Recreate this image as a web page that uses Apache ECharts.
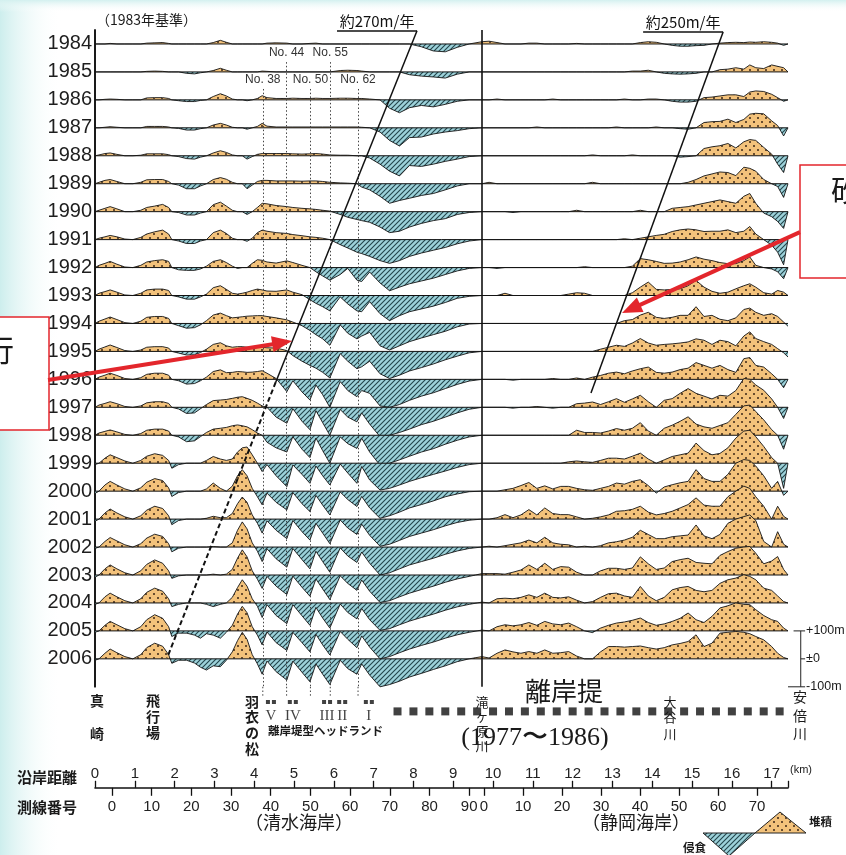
<!DOCTYPE html>
<html>
<head>
<meta charset="utf-8">
<title>汀線変化</title>
<script src="https://cdn.jsdelivr.net/npm/echarts@6/dist/echarts.min.js"></script>
<style>
html,body{margin:0;padding:0;background:#ffffff;}
#chart{width:846px;height:855px;}
</style>
</head>
<body>
<div id="chart"></div>
<script>
// ================= DATA =================
const years = [1984,1985,1986,1987,1988,1989,1990,1991,1992,1993,1994,1995,1996,1997,1998,1999,2000,2001,2002,2003,2004,2005,2006];

// alongshore distance (km) of the points at which the shoreline change is read
const kmPoints = [
  0.00,0.10,0.25,0.38,0.55,0.75,0.95,1.15,1.30,1.50,1.70,1.85,1.93,
  2.10,2.30,2.50,2.65,2.80,2.97,3.15,3.30,3.45,3.58,3.70,3.82,3.95,
  4.08,4.20,4.32,4.55,4.82,4.97,5.20,5.40,5.55,5.72,5.90,6.16,6.35,
  6.58,6.70,6.90,7.16,7.40,7.65,7.90,8.20,8.50,8.80,9.10,9.40,9.72,
  9.90,10.10,10.30,10.50,10.70,10.90,11.10,11.30,11.50,11.70,
  11.90,12.10,12.30,12.50,12.70,12.90,13.10,13.30,13.50,13.70,
  13.90,14.10,14.30,14.50,14.70,14.90,15.10,15.30,15.50,15.70,
  15.90,16.10,16.30,16.45,16.60,16.80,17.00,17.15,17.30,17.41
];

// shoreline change relative to 1983 (m), one array per year
const d1984 = [0,0,0,2,0,0,0,0,3,4,5,2,0, 0,0,0,0,0,5,13,6,0,0,0,0,0, 0,0,3,4,3,0,0,2,3,0,0,0,0, 0,0,0,0,0,0,0,-10,-25,-28,-12,0,8,
  10,5,0,0,0,3,3,0,0,0, 0,2,0,0,0,0,0,0,0,5, 8,6,0,-5,-8,-8,-6,-5,0,3, 5,6,5,7,6,8,6,3,-5,0];
const d1985 = [0,0,0,0,0,0,0,0,2,3,2,0,0, 0,-5,-7,-3,0,5,13,6,0,0,0,0,0, 0,3,2,0,0,0,0,0,0,0,0,5,6, 5,3,0,0,0,0,-10,-15,-18,-22,-8,0,0,
  0,0,0,0,0,0,0,0,0,0, 0,0,0,0,0,0,0,0,3,3, 6,0,-5,-7,-8,-7,-5,0,0,8, 10,15,10,25,15,12,25,20,15,0];
const d1986 = [0,0,2,3,2,0,0,0,7,8,8,5,0, -3,-6,-6,-2,0,12,22,14,3,0,0,-3,0, 5,15,8,5,5,6,5,5,6,5,5,6,6, 5,5,3,0,-30,-46,-28,-20,-25,-16,-5,0,0,
  0,3,0,0,0,0,0,0,3,0, 0,0,0,0,0,0,0,3,0,0, 3,3,0,-5,-8,-8,-5,8,10,14, 18,18,12,28,32,30,20,8,-5,0];
const d1987 = [0,0,2,4,2,0,0,0,5,5,5,3,0, -2,-8,-8,-3,0,10,16,10,2,0,0,-5,0, 5,16,6,3,3,3,3,3,3,3,3,3,3, 3,2,0,-15,-45,-65,-35,-33,-22,-15,-10,-3,0,
  0,0,0,0,0,0,3,0,0,0, 0,0,0,0,0,0,3,0,0,0, 0,3,0,0,-3,-5,0,19,22,23, 31,19,30,49,52,50,25,8,-29,0];
const d1988 = [0,3,8,10,5,0,0,2,7,7,7,4,0, -3,-10,-12,-5,0,10,18,12,3,0,0,-12,-3, 5,8,8,8,8,7,6,7,8,6,3,2,2, 0,0,-8,-30,-55,-72,-35,-38,-30,-20,-12,-3,0,
  0,0,0,0,0,0,0,0,0,0, 0,0,0,3,0,0,0,0,3,0, 0,0,0,0,-5,-3,0,26,32,36, 44,28,50,58,55,30,6,-30,-60,0];
const d1989 = [0,5,12,15,8,0,0,5,14,15,15,8,0, -5,-18,-18,-8,0,15,22,16,5,0,0,-18,-5, 8,12,12,10,10,10,9,10,10,8,5,3,2, 0,-12,-22,-45,-70,-60,-52,-42,-35,-22,-8,0,0,
  5,0,0,0,0,0,0,0,0,0, 0,0,0,5,0,0,0,0,0,0, 0,0,0,0,0,5,15,28,35,42, 40,29,59,55,45,15,0,-10,-49,0];
const d1990 = [0,5,12,18,10,0,0,5,15,20,26,15,0, -3,-12,-12,-5,0,25,34,20,5,0,0,-10,0, 15,30,28,22,18,15,12,10,8,5,2,-10,-20, -28,-32,-38,-55,-75,-70,-55,-42,-32,-25,-10,-3,0,
  0,0,0,-3,0,0,0,0,0,0, 0,5,0,0,0,0,0,0,0,5, 0,0,0,12,15,18,24,30,36,42, 36,30,55,65,30,-5,-18,-35,-60,0];
const d1991 = [0,5,10,15,10,2,0,8,20,28,34,20,0, -5,-14,-14,-5,0,25,34,22,5,0,0,-6,5, 25,34,30,25,22,18,14,10,8,5,0,-18,-30, -45,-50,-60,-75,-85,-75,-60,-48,-38,-28,-15,-5,0,
  0,0,0,0,0,0,0,0,0,0, 0,0,0,0,0,0,0,3,0,5, 10,15,19,29,35,38,35,29,30,30, 35,25,30,47,20,0,-20,-45,-90,0];
const d1992 = [0,8,15,22,12,2,0,8,20,25,28,22,0, -8,-10,-10,-5,5,22,28,18,5,-3,0,0,15, 28,26,20,16,24,18,8,0,-15,-30,-45,-25,-3, -45,-50,-16,-55,-83,-70,-58,-48,-38,-25,-12,-3,0,
  0,-3,0,0,0,0,0,0,0,0, 0,0,3,0,0,0,0,0,5,32, 28,22,15,16,20,28,38,30,25,18, 14,14,25,38,8,0,-5,-15,-40,0];
const d1993 = [0,8,14,20,12,2,0,8,20,23,23,18,0, -5,-13,-13,-5,5,28,35,22,8,5,8,12,18, 23,20,16,15,20,12,3,-15,-28,-40,-55,-5,-30, -55,-58,-22,-65,-90,-72,-58,-48,-38,-25,-10,-3,0,
  0,0,8,0,0,0,0,0,0,0, 5,10,8,0,0,0,0,0,10,30, 48,22,20,22,24,35,54,30,15,8, 12,24,35,42,30,10,5,18,12,0];
const d1994 = [0,8,16,23,14,3,0,8,22,25,25,18,0, -8,-17,-15,-5,10,30,37,28,20,22,24,26,27, 28,28,25,20,13,5,-8,-25,-40,-55,-78,-5,-35, -55,-45,-32,-80,-95,-80,-65,-52,-40,-28,-12,-2,0,
  0,0,0,0,0,0,0,0,0,0, 0,0,0,0,0,0,0,10,14,30, 40,22,18,22,29,29,60,25,29,15, 10,20,50,55,40,29,35,25,5,-10];
const d1995 = [0,8,16,23,14,3,0,5,15,17,17,12,0, -6,-13,-12,-4,8,25,31,20,15,17,17,15,16, 17,15,13,12,3,-15,-35,-50,-60,-75,-95,-8,-35, -62,-55,-35,-80,-97,-85,-70,-58,-45,-30,-17,-5,0,
  0,0,0,0,0,0,0,0,0,0, 0,0,0,0,8,15,22,18,30,46, 30,22,25,27,30,34,45,40,25,40, 35,20,55,70,46,35,25,10,-5,-20];
const d1996 = [0,8,15,22,14,3,0,6,18,22,22,15,0, -5,-17,-15,-5,8,28,34,24,25,28,27,25,26, 28,31,22,3,-44,-5,-45,-74,-20,-55,-100,-8,-40, -62,-40,-50,-95,-100,-90,-75,-60,-48,-33,-18,-6,0,
  0,0,0,-3,0,0,0,0,3,0, 0,5,0,8,14,22,26,20,30,38, 44,25,22,26,35,40,60,50,40,50, 35,25,74,78,50,44,20,0,-30,0];
const d1997 = [0,8,14,20,13,3,0,5,16,20,20,14,0, -6,-22,-20,-5,10,24,26,28,32,36,38,32,25, 15,5,0,-35,-57,-5,-50,-80,-12,-55,-100,-8,-35, -52,-20,-60,-105,-100,-90,-78,-62,-50,-35,-20,-7,0,
  0,0,0,-3,0,0,3,0,-3,0, 0,13,15,19,10,20,31,18,30,43, 20,0,25,31,50,67,50,40,30,43, 40,60,103,100,80,61,30,0,-40,0];
const d1998 = [0,8,14,19,12,3,0,6,18,22,22,15,0, -6,-23,-20,-5,10,22,25,28,34,37,34,30,20, 8,0,-25,-45,-60,-5,-50,-80,-10,-55,-100,-6,-30, -47,-11,-60,-107,-100,-88,-75,-60,-48,-32,-18,-6,0,
  0,0,0,0,0,0,0,0,0,0, 0,18,10,10,8,15,24,18,25,45, 15,0,25,36,50,66,40,30,25,35, 45,75,105,108,85,55,20,0,-50,0];
const d1999 = [-5,0,18,30,20,8,0,10,25,34,28,10,-18, -5,0,0,0,10,24,15,10,15,40,55,58,30, 0,-30,-5,-45,-84,-6,-40,-72,-10,-45,-78,-3,-35, -72,-12,-60,-96,-90,-78,-65,-52,-40,-28,-15,-5,0,
  0,0,0,0,0,0,0,0,0,0, 5,8,5,3,10,18,18,15,25,36, 15,0,12,24,30,36,72,45,30,35, 55,90,115,118,95,60,20,0,-90,0];
const d2000 = [-8,0,22,35,22,8,0,12,32,45,38,12,-19, -5,0,0,0,8,29,10,0,18,55,77,55,10, -20,-49,-7,-40,-67,-5,-45,-73,-15,-50,-85,-3,-30, -55,-19,-60,-97,-88,-75,-60,-48,-35,-20,-10,-2,0,
  0,0,5,10,20,31,10,19,8,17, 17,10,5,3,10,17,29,25,35,41, 20,-7,15,23,30,35,77,45,35,35, 60,100,113,110,90,55,10,35,-15,0];
const d2001 = [-8,0,22,36,22,8,0,12,32,46,38,12,-20, -5,0,0,0,3,10,5,5,20,55,79,60,15, -15,-50,-6,-40,-70,-5,-45,-75,-15,-50,-88,-3,-32, -55,-18,-58,-97,-90,-76,-62,-50,-38,-24,-12,-4,0,
  0,5,16,5,15,34,15,40,20,16, 16,8,0,3,8,15,28,30,35,46, 25,15,20,28,40,52,76,50,46,46, 80,100,118,110,80,46,0,46,10,0];
const d2002 = [-5,0,20,34,22,8,0,12,32,46,38,12,-17, -4,0,0,0,0,2,0,0,15,60,90,65,15, -15,-52,-6,-42,-72,-5,-45,-78,-15,-52,-90,-3,-32, -55,-18,-58,-100,-92,-78,-64,-52,-40,-26,-14,-5,0,
  3,0,5,10,15,25,15,35,15,10, 8,0,3,0,5,15,19,25,35,60, 45,30,30,37,40,43,79,40,30,45, 85,100,109,115,95,20,0,55,10,0];
const d2003 = [-8,0,22,36,22,8,0,15,38,54,42,15,-12, -3,0,0,0,0,3,0,3,20,60,90,65,15, -15,-48,-5,-40,-70,-4,-44,-76,-14,-50,-88,-3,-30, -55,-18,-58,-98,-92,-78,-65,-52,-40,-26,-14,-5,5,
  5,5,3,10,18,36,20,42,20,30, 28,10,0,0,15,24,24,20,25,65, 40,20,25,48,55,60,45,42,40,70, 84,96,100,102,78,40,50,66,20,0];
const d2004 = [-5,0,22,35,22,8,0,15,38,53,42,15,-13, -5,0,0,0,-5,-13,-5,0,20,55,83,60,15, -12,-52,-6,-45,-74,-6,-46,-80,-16,-54,-90,-4,-34, -57,-20,-60,-98,-92,-78,-65,-52,-40,-26,-14,-5,3,
  0,15,17,15,20,29,20,35,20,18, 22,10,0,5,20,33,35,25,20,59, 25,8,20,47,55,59,45,40,45,70, 83,89,101,95,83,53,45,25,5,0];
const d2005 = [-5,0,20,34,22,8,0,15,40,58,45,15,-20, -8,-8,-15,-26,-10,-15,-26,-5,20,60,88,65,15, -15,-50,-4,-42,-70,-5,-42,-75,-12,-50,-86,-2,-30, -60,-18,-58,-100,-92,-78,-65,-52,-40,-26,-14,-5,3,
  0,15,22,18,22,30,20,34,25,22, 28,15,0,-6,10,20,28,32,38,46, 30,20,25,34,45,64,40,30,52,82, 90,100,95,94,76,55,40,34,10,0];
const d2006 = [-5,0,20,35,22,8,0,15,40,56,45,15,-16, -5,-5,-15,-30,-40,-25,-28,-5,25,65,95,70,15, -18,-55,-8,-46,-76,-8,-48,-82,-18,-55,-92,-5,-35, -55,-18,-58,-100,-92,-80,-65,-52,-38,-25,-10,0,8,
  3,20,32,25,20,26,20,32,20,22, 26,10,0,0,25,44,44,42,44,46, 40,35,40,50,55,62,86,44,56,92, 95,98,95,90,80,68,44,20,5,0];

const profiles = [d1984,d1985,d1986,d1987,d1988,d1989,d1990,d1991,d1992,d1993,d1994,d1995,d1996,d1997,d1998,d1999,d2000,d2001,d2002,d2003,d2004,d2005,d2006];

// axis tick labels
const kmTickLabels = [0,1,2,3,4,5,6,7,8,9,10,11,12,13,14,15,16,17];
const shimizuLines = [0,10,20,30,40,50,60,70,80,90];
const shizuokaLines = [0,10,20,30,40,50,60,70];
const surveyMarks = [38,44,50,55,62];
const surveyMarkHigh = [false,true,false,true,false];
const headlandNames = ['V','IV','III','II','I'];
const headlandKm = [4.42,4.97,5.83,6.21,6.88];
const breakwaterKm = [7.6,8.0,8.4,8.8,9.2,9.6,10.0,10.4,10.8,11.2,11.6,12.0,12.4,12.8,13.2,13.6,14.0,14.4,14.8,15.2,15.6,16.0,16.4,16.8,17.2];
const riverKm = 9.72;
const scaleLabels = ['+100m', '±0', '-100m'];

// ================= LAYOUT / STYLE =================
const ROW = 100;               // one row spacing = 100 m on the value axis
const TOP_BASE = 2300;         // baseline value of the first year
const Y_MAX = 2350;
const X_MAX = 17.41;
const SHIMIZU0 = 0.427, SHIMIZU_DK = 0.0997;   // survey line No. -> km (Shimizu coast)
const SHIZUOKA0 = 9.773, SHIZUOKA_DK = 0.098;  // survey line No. -> km (Shizuoka coast)
const NARROW = "'Liberation Sans Narrow','Arial Narrow','Liberation Sans',Arial,sans-serif";
const SANS = "'Liberation Sans',Arial,sans-serif";
const CJK = "'Noto Sans CJK JP','Noto Sans CJK SC',sans-serif";
const SERIF = "'Liberation Serif','DejaVu Serif',serif";
const red = '#e3262c';

function makeDots() {
  const c = document.createElement('canvas'); c.width = 8; c.height = 8;
  const g = c.getContext('2d');
  g.fillStyle = '#f3c27b'; g.fillRect(0, 0, 8, 8);
  g.fillStyle = '#3a2414';
  [[2, 2], [6, 6]].forEach(p => { g.beginPath(); g.arc(p[0], p[1], 1.0, 0, Math.PI * 2); g.fill(); });
  return c;
}
function makeHatch() {
  const c = document.createElement('canvas'); c.width = 5; c.height = 5;
  const g = c.getContext('2d');
  g.fillStyle = '#9dd2da'; g.fillRect(0, 0, 5, 5);
  g.strokeStyle = '#23454c'; g.lineWidth = 1.1;
  g.beginPath();
  g.moveTo(-1, 6); g.lineTo(6, -1);
  g.moveTo(-1, 1); g.lineTo(1, -1);
  g.moveTo(4, 6); g.lineTo(6, 4);
  g.stroke();
  return c;
}
const orangeFill = { image: makeDots(), repeat: 'repeat' };
const blueFill = { image: makeHatch(), repeat: 'repeat' };

function renderRow(params, api) {
  const i = api.value(0);
  const base = api.value(1);
  const prof = profiles[i];
  const n = Math.min(prof.length, kmPoints.length);
  const y0 = api.coord([0, base])[1];
  const pts = [];
  for (let j = 0; j < n; j++) {
    const p = api.coord([kmPoints[j], base + prof[j]]);
    if (j > 0) {
      const v1 = prof[j - 1], v2 = prof[j];
      if ((v1 > 0 && v2 < 0) || (v1 < 0 && v2 > 0)) {
        const q = pts[pts.length - 1];
        const t = v1 / (v1 - v2);
        pts.push([q[0] + t * (p[0] - q[0]), y0]);
      }
    }
    pts.push(p);
  }
  const xL = pts[0][0], xR = pts[pts.length - 1][0];
  const pos = [[xL, y0]].concat(pts.map(p => [p[0], Math.min(p[1], y0)]), [[xR, y0]]);
  const neg = [[xL, y0]].concat(pts.map(p => [p[0], Math.max(p[1], y0)]), [[xR, y0]]);
  return {
    type: 'group',
    children: [
      { type: 'polygon', shape: { points: neg }, style: { fill: blueFill, stroke: null } },
      { type: 'polygon', shape: { points: pos }, style: { fill: orangeFill, stroke: null } },
      { type: 'line', shape: { x1: xL, y1: y0, x2: xR, y2: y0 }, style: { stroke: '#111', lineWidth: 1 } },
      { type: 'polyline', shape: { points: pts }, style: { fill: null, stroke: '#141414', lineWidth: 0.9 } }
    ]
  };
}

// survey-number axis ticks
const surveyKm = shimizuLines.map(n => SHIMIZU0 + SHIMIZU_DK * n).concat(shizuokaLines.map(n => SHIZUOKA0 + SHIZUOKA_DK * n));
const surveyText = shimizuLines.concat(shizuokaLines);
function surveyFormatter(v) {
  const k = surveyKm.findIndex(s => Math.abs(s - v) < 1e-6);
  return k >= 0 ? String(surveyText[k]) : '';
}

// ---- reference lines inside the plot (value-axis coordinates) ----
const solidBlack = { type: 'solid', width: 1.5, color: '#111' };
const markData = [];
markData.push([{ coord: [riverKm, Y_MAX], lineStyle: { type: 'solid', width: 1.6, color: '#111' } }, { coord: [riverKm, 0] }]);
surveyMarks.forEach((n, k) => {
  const km = SHIMIZU0 + SHIMIZU_DK * n;
  const top = surveyMarkHigh[k] ? 2235 : 2139;
  markData.push([{
    coord: [km, top], lineStyle: { type: [1.5, 2.2], width: 1, color: '#444' },
    label: { show: true, position: 'start', distance: 3, formatter: 'No. ' + n, fontSize: 12, color: '#333', fontFamily: NARROW }
  }, { coord: [km, 0] }]);
});
markData.push([{ coord: [6.08, 2347], lineStyle: solidBlack,
  label: { show: true, position: 'insideMiddleTop', distance: 2, formatter: '約270m/年', fontSize: 15, color: '#111', fontFamily: CJK } }, { coord: [8.09, 2347] }]);
markData.push([{ coord: [8.09, 2347], lineStyle: solidBlack }, { coord: [4.54, 1090] }]);
markData.push([{ coord: [4.54, 1090], lineStyle: { type: [5, 3], width: 2, color: '#111' } }, { coord: [1.81, 103] }]);
markData.push([{ coord: [13.77, 2343], lineStyle: solidBlack,
  label: { show: true, position: 'insideMiddleTop', distance: 2, formatter: '約250m/年', fontSize: 15, color: '#111', fontFamily: CJK } }, { coord: [15.78, 2343] }]);
markData.push([{ coord: [15.78, 2343], lineStyle: solidBlack }, { coord: [12.46, 1051] }]);

// annotations outside the axis extent (converted through the chart's scales after layout)
const arrowDefs = [ { from: [-1.18, 1098], to: [4.95, 1237] }, { from: [17.71, 1627], to: [13.24, 1337] } ];
const bracketKm = { left: 17.55, mid: 17.73, right: 17.84, axisEnd: X_MAX };
const bracketVals = [200, 100, 0];   // +100 m, ±0, -100 m around the 2006 baseline
const surveyLineBottom = -35;

// ---- graphic texts ----
function txt(x, y, t, size, opt) {
  opt = opt || {};
  return { type: 'text', x: x, y: y, z: 50, silent: true,
    style: { text: t, fill: opt.fill || '#1a1a1a', fontSize: size, fontFamily: opt.font || CJK, fontWeight: opt.weight || 'normal',
      align: opt.align || 'center', verticalAlign: 'middle' } };
}
function vtext(x, ys, chars, size, opt) { return chars.map((c, k) => txt(x, ys[k], c, size, opt)); }

const graphics = [
  { type: 'rect', z: -100, silent: true, shape: { x: 0, y: 0, width: 62, height: 855 },
    style: { fill: new echarts.graphic.LinearGradient(0, 0, 1, 0, [{ offset: 0, color: '#cdeeed' }, { offset: 1, color: 'rgba(255,255,255,0)' }]) } },
  { type: 'rect', z: -100, silent: true, shape: { x: 0, y: 0, width: 846, height: 12 },
    style: { fill: new echarts.graphic.LinearGradient(0, 0, 0, 1, [{ offset: 0, color: '#d3f0ef' }, { offset: 1, color: 'rgba(255,255,255,0)' }]) } },
  txt(96, 20, '（1983年基準）', 14, { align: 'left' }),
  ...vtext(97, [701, 734], ['真', '崎'], 14, { weight: 'bold' }),
  ...vtext(153, [701, 717, 733], ['飛', '行', '場'], 14, { weight: 'bold' }),
  ...vtext(252, [702, 717, 733, 749], ['羽', '衣', 'の', '松'], 14, { weight: 'bold' }),
  txt(268, 731, '離岸堤型ヘッドランド', 11.5, { align: 'left', weight: 'bold' }),
  ...vtext(482, [702, 716, 731, 746], ['滝', 'ヶ', '原', '川'], 13),
  ...vtext(670, [702, 717, 734], ['大', '谷', '川'], 13),
  ...vtext(800, [697, 716, 734], ['安', '倍', '川'], 14),
  txt(564, 691, '離岸提', 26),
  txt(535, 738, '(1977〜1986)', 26, { font: SERIF }),
  txt(47, 777, '沿岸距離', 15, { weight: 'bold' }),
  txt(47, 807, '測線番号', 15, { weight: 'bold' }),
  txt(790, 770, '(km)', 11, { align: 'left', font: SANS }),
  txt(299, 822, '（清水海岸）', 18),
  txt(636, 822, '（静岡海岸）', 18),
  { type: 'polygon', z: 40, silent: true, shape: { points: [[703, 833], [755, 833], [729, 856]] }, style: { fill: blueFill, stroke: '#222', lineWidth: 1 } },
  { type: 'polygon', z: 40, silent: true, shape: { points: [[755, 833], [806, 833], [780, 812]] }, style: { fill: orangeFill, stroke: '#222', lineWidth: 1 } },
  txt(809, 822, '堆積', 11.5, { align: 'left', weight: 'bold' }),
  txt(683, 848, '侵食', 11.5, { align: 'left', weight: 'bold' }),
  { type: 'rect', z: 45, silent: true, shape: { x: -20, y: 317, width: 69, height: 113 }, style: { fill: '#fff', stroke: red, lineWidth: 1.5 } },
  txt(14, 350, '行', 30, { align: 'right' }),
  { type: 'rect', z: 45, silent: true, shape: { x: 800, y: 165, width: 70, height: 113 }, style: { fill: '#fff', stroke: red, lineWidth: 1.5 } },
  txt(831, 190, '砂', 30, { align: 'left' })
];

// ================= CHART =================
const chart = echarts.init(document.getElementById('chart'), null, { renderer: 'canvas', width: 846, height: 855 });
chart.setOption({
  animation: false,
  backgroundColor: '#ffffff',
  grid: { left: 95, top: 30, width: 693, height: 656.8, containLabel: false },
  xAxis: [
    { type: 'value', min: 0, max: X_MAX, interval: 1, position: 'bottom', offset: 101,
      axisLine: { show: true, onZero: false, lineStyle: { color: '#111', width: 1.6 } },
      axisTick: { show: true, inside: true, length: 7, lineStyle: { color: '#111', width: 1.3 } },
      axisLabel: { inside: true, margin: 6, fontSize: 15, color: '#222', fontFamily: NARROW,
        formatter: v => (kmTickLabels.indexOf(v) >= 0 ? String(v) : '') },
      splitLine: { show: false } },
    { type: 'value', min: 0, max: X_MAX, position: 'bottom', offset: 101,
      axisLine: { show: false, onZero: false },
      axisTick: { show: true, length: 8, customValues: surveyKm, lineStyle: { color: '#111', width: 1.3 } },
      axisLabel: { show: true, margin: 12, customValues: surveyKm, fontSize: 15, color: '#222', fontFamily: NARROW, formatter: surveyFormatter },
      splitLine: { show: false } }
  ],
  yAxis: [
    { type: 'value', min: 0, max: Y_MAX, interval: ROW, position: 'left',
      axisLine: { show: true, lineStyle: { color: '#111', width: 1.6 } },
      axisTick: { show: false }, splitLine: { show: false },
      axisLabel: { margin: 3, fontSize: 20, color: '#1e1e1e', fontFamily: SANS,
        formatter: v => { const k = (TOP_BASE - v) / ROW; return (Number.isInteger(k) && k >= 0 && k < years.length) ? String(years[k]) : ''; } } },
    { type: 'value', min: 0, max: Y_MAX, position: 'right',
      axisLine: { show: true, lineStyle: { color: '#111', width: 1.6 } },
      axisTick: { show: false }, axisLabel: { show: false }, splitLine: { show: false } }
  ],
  series: [
    { type: 'custom', name: 'profiles', coordinateSystem: 'cartesian2d', xAxisIndex: 0, yAxisIndex: 0,
      clip: false, silent: true, renderItem: renderRow,
      encode: { x: 0, y: 1 },
      data: years.map((y, i) => [i, TOP_BASE - ROW * i]) },
    { type: 'scatter', name: 'breakwaters', xAxisIndex: 0, yAxisIndex: 0, clip: false, silent: true,
      symbol: 'rect', symbolSize: 8, itemStyle: { color: '#111' },
      data: breakwaterKm.map(k => [k, -88]),
      markLine: { silent: true, symbol: ['none', 'none'], animation: false, label: { show: false },
        emphasis: { disabled: true }, data: markData } },
    { type: 'scatter', name: 'headlands', xAxisIndex: 0, yAxisIndex: 0, clip: false, silent: true,
      symbol: 'path://M0,0H4V4H0ZM6,0H10V4H6Z', symbolSize: [10, 4], itemStyle: { color: '#111' },
      label: { show: true, position: 'bottom', distance: 5, fontSize: 15, color: '#111', fontFamily: SERIF,
        formatter: p => headlandNames[p.dataIndex] },
      data: headlandKm.map(k => [k, -54]) }
  ]
});

// annotations placed through the chart's own scales
const toPx = (pt) => chart.convertToPixel({ seriesIndex: 0 }, pt);
const extra = [];
arrowDefs.forEach(a => {
  const p0 = toPx(a.from), p1 = toPx(a.to);
  const dx = p1[0] - p0[0], dy = p1[1] - p0[1];
  const L = Math.sqrt(dx * dx + dy * dy), ux = dx / L, uy = dy / L;
  const hl = 20, hw = 8;
  const bx = p1[0] - ux * hl, by = p1[1] - uy * hl;
  extra.push({ type: 'line', z: 60, silent: true, shape: { x1: p0[0], y1: p0[1], x2: bx + ux * 2, y2: by + uy * 2 }, style: { stroke: red, lineWidth: 4 } });
  extra.push({ type: 'polygon', z: 60, silent: true, shape: { points: [[p1[0], p1[1]], [bx - uy * hw, by + ux * hw], [bx + uy * hw, by - ux * hw]] }, style: { fill: red } });
});
surveyMarks.forEach(n => {
  const km = SHIMIZU0 + SHIMIZU_DK * n;
  const a = toPx([km, 0]), b = toPx([km, surveyLineBottom]);
  extra.push({ type: 'line', z: 30, silent: true, shape: { x1: a[0], y1: a[1], x2: b[0], y2: b[1] }, style: { stroke: '#444', lineWidth: 1, lineDash: [1.5, 2.2] } });
});
{
  const top = toPx([bracketKm.mid, bracketVals[0]]), bot = toPx([bracketKm.mid, bracketVals[2]]);
  const midY = toPx([bracketKm.mid, bracketVals[1]])[1];
  const xl = toPx([bracketKm.left, 0])[0], xm = top[0], xr = toPx([bracketKm.right, 0])[0], xa = toPx([bracketKm.axisEnd, 0])[0];
  const st = { stroke: '#222', lineWidth: 1, fill: null };
  extra.push({ type: 'polyline', z: 60, silent: true, shape: { points: [[xl, top[1]], [xr, top[1]]] }, style: st });
  extra.push({ type: 'polyline', z: 60, silent: true, shape: { points: [[xm, top[1]], [xm, bot[1]]] }, style: st });
  extra.push({ type: 'polyline', z: 60, silent: true, shape: { points: [[xm, midY], [xr, midY]] }, style: st });
  extra.push({ type: 'polyline', z: 60, silent: true, shape: { points: [[xa, bot[1]], [xr, bot[1]]] }, style: st });
  [top[1], midY, bot[1]].forEach((yy, k) => extra.push(txt(xr + 1, yy, scaleLabels[k], 12.5, { align: 'left', font: SANS })));
}
chart.setOption({ graphic: { elements: graphics.concat(extra) } });
</script>
</body>
</html>
